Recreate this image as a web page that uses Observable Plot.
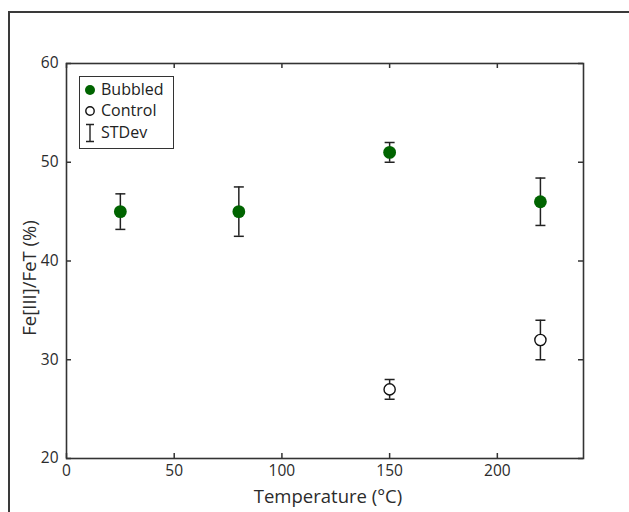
<!DOCTYPE html>
<html>
<head>
<meta charset="utf-8">
<script src="https://cdn.jsdelivr.net/npm/d3@7"></script>
<script src="https://cdn.jsdelivr.net/npm/@observablehq/plot@0.6"></script>
<style>
  html, body { margin: 0; padding: 0; background: #fff; overflow: hidden; }
  #wrap { position: relative; width: 629px; height: 512px; font-family: "Open Sans", sans-serif; }
  #outer { position: absolute; left: 8px; top: 11px; width: 700px; height: 600px;
           border-left: 2px solid #3a3a3a; border-top: 2px solid #3a3a3a; }
  #chart { position: absolute; left: 0; top: 0; }
  #legend { position: absolute; left: 79px; top: 76px; width: 93px; height: 71px;
            border: 1px solid #333; background: #fff; }
  .row { position: absolute; left: 0; height: 20px; width: 93px; }
  .row svg { position: absolute; left: 3px; top: 0; }
  .row span { position: absolute; left: 21px; top: -1px; font-size: 16px; line-height: 20px; color: #222; }
</style>
</head>
<body>
<div id="wrap">
  <div id="outer"></div>
  <div id="chart"></div>
  <div id="legend"></div>
</div>
<script>
// ---- data ----
const bubbledTemp = [25, 80, 150, 220];
const bubbledMean = [45, 45, 51, 46];
const bubbledSD   = [1.8, 2.5, 1.0, 2.4];
const controlTemp = [150, 220];
const controlMean = [27, 32];
const controlSD   = [1.0, 2.0];
const xTicks = [0, 50, 100, 150, 200];
const yTicks = [20, 30, 40, 50, 60];
const xLabel = "Temperature (°C)";
const yLabel = "Fe[III]/FeT (%)";
const legendLabels = ["Bubbled", "Control", "STDev"];

const green = "#006400";
const ink = "#222";
const textInk = "#2b2b2b";

const bubbled = bubbledTemp.map((t, i) => ({t, m: bubbledMean[i], lo: bubbledMean[i] - bubbledSD[i], hi: bubbledMean[i] + bubbledSD[i]}));
const control = controlTemp.map((t, i) => ({t, m: controlMean[i], lo: controlMean[i] - controlSD[i], hi: controlMean[i] + controlSD[i]}));
const all = bubbled.concat(control);

// horizontal cap symbol: half-width equals r
const cap = { draw(ctx, size) { const w = Math.sqrt(size / Math.PI); ctx.moveTo(-w, 0); ctx.lineTo(w, 0); } };

const W = 629, H = 512, mL = 66, mR = 46, mT = 63, mB = 54;
const ph = H - mT - mB, pw = W - mL - mR, tl = 5;

const chart = Plot.plot({
  width: W, height: H,
  marginLeft: mL, marginRight: mR, marginTop: mT, marginBottom: mB,
  style: { fontFamily: "Open Sans, sans-serif", fontSize: "15.5px", color: textInk, background: "transparent" },
  x: { domain: [0, 240], ticks: xTicks, label: null },
  y: { domain: [20, 60], ticks: yTicks, label: null },
  marks: [
    // inward ticks
    Plot.tickX(xTicks, { x: d => d, stroke: "#333", strokeWidth: 1.5, insetTop: ph - tl }),
    Plot.tickX(xTicks, { x: d => d, stroke: "#333", strokeWidth: 1.5, insetBottom: ph - tl }),
    Plot.tickY(yTicks, { y: d => d, stroke: "#333", strokeWidth: 1.5, insetRight: pw - tl }),
    Plot.tickY(yTicks, { y: d => d, stroke: "#333", strokeWidth: 1.5, insetLeft: pw - tl }),
    Plot.frame({ stroke: "#333", strokeWidth: 1.6 }),
    Plot.axisX(xTicks, { anchor: "bottom", tickSize: 0, tickPadding: 6, label: null, fill: textInk }),
    Plot.axisY(yTicks, { anchor: "left", tickSize: 0, tickPadding: 8, label: null, fill: textInk }),
    Plot.text([xLabel], { frameAnchor: "bottom", textAnchor: "middle", lineAnchor: "middle", dy: 39, dx: 3, fontSize: 18.5, fill: textInk }),
    Plot.text([yLabel], { frameAnchor: "left", textAnchor: "middle", lineAnchor: "middle", rotate: -90, dx: -36, dy: 17, fontSize: 18.5, fill: textInk }),
    // error bars
    Plot.ruleX(all, { x: "t", y1: "lo", y2: "hi", stroke: ink, strokeWidth: 1.5 }),
    Plot.dot(all, { x: "t", y: "lo", symbol: cap, r: 5, stroke: ink, strokeWidth: 1.5, fill: "none" }),
    Plot.dot(all, { x: "t", y: "hi", symbol: cap, r: 5, stroke: ink, strokeWidth: 1.5, fill: "none" }),
    // points
    Plot.dot(bubbled, { x: "t", y: "m", r: 6.4, fill: green, stroke: "none" }),
    Plot.dot(control, { x: "t", y: "m", r: 5.6, fill: "#fff", stroke: "#111", strokeWidth: 1.4 })
  ]
});
document.getElementById("chart").appendChild(chart);

// legend
const legend = d3.select("#legend");
const rowsTop = [3, 24, 46];
legendLabels.forEach((lab, i) => {
  const row = legend.append("div").attr("class", "row").style("top", rowsTop[i] + "px");
  const svg = row.append("svg").attr("width", 14).attr("height", 20);
  if (i === 0) svg.append("circle").attr("cx", 7).attr("cy", 10).attr("r", 5).attr("fill", green);
  if (i === 1) svg.append("circle").attr("cx", 7).attr("cy", 10).attr("r", 4.2).attr("fill", "none").attr("stroke", "#111").attr("stroke-width", 1.4);
  if (i === 2) {
    svg.append("path").attr("d", "M3,1.5H11M7,1.5V18.5M3,18.5H11").attr("stroke", ink).attr("stroke-width", 1.4).attr("fill", "none");
  }
  row.append("span").text(lab);
});
</script>
</body>
</html>
